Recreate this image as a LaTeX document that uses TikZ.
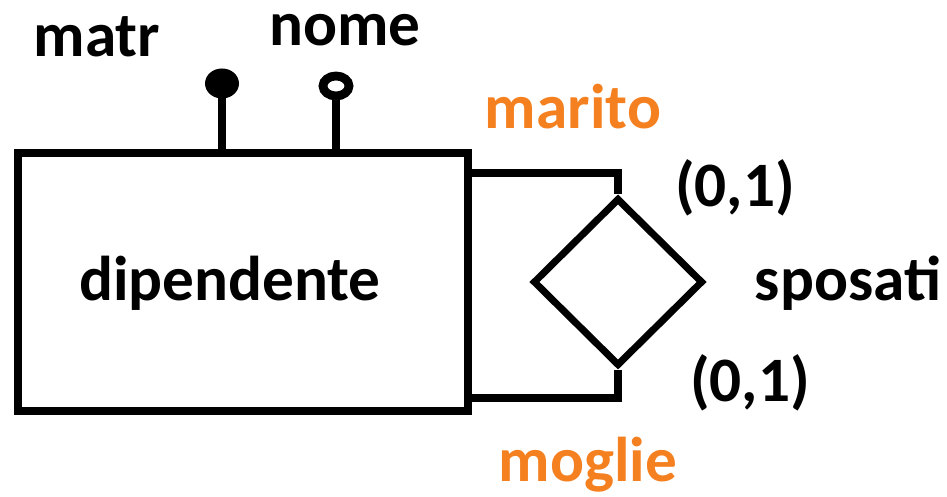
\documentclass[tikz,border=0pt]{standalone}
\usepackage{fontspec}
\setmainfont{Carlito}
\usetikzlibrary{shapes.geometric}
\definecolor{roleorange}{RGB}{245,128,32}
\tikzset{
  lbl/.style={font=\fontsize{36}{40}\selectfont\bfseries, inner sep=0pt},
  role/.style={lbl, text=roleorange},
  er/.style={line width=4pt}
}
\begin{document}
\begin{tikzpicture}
        \useasboundingbox (0,0) rectangle (18.94,9.94);
        \node (ent) [er,draw,minimum width=9cm,minimum height=5.16cm,inner sep=0pt] at (4.86,4.30) {};
        \node (dip) [lbl] at (4.60,4.28) {dipendente};
        \node (rel) [er,draw,diamond,minimum width=3.4cm,minimum height=3.36cm,inner sep=0pt] at (12.36,4.30) {};
        \node (spo) [lbl] at (16.96,4.28) {sposati};
        \node (matr) [lbl] at (1.94,9.20) {matr};
        \node (nome) [lbl] at (6.90,9.34) {nome};
        \node (mar) [role] at (11.46,7.80) {marito};
        \node (mog) [role] at (11.76,0.64) {moglie};
        \node (c1) [lbl] at (14.70,6.18) {(0,1)};
        \node (c2) [lbl] at (15.00,2.28) {(0,1)};
        \coordinate (k1) at (4.44,8.27);
        \coordinate (k2) at (6.72,8.22);
%        attributes
        \draw [er] (k1) to (k1 |- ent.north);
        \fill (k1) ellipse (0.34 and 0.30);
        \draw [er] (k2) to (k2 |- ent.north);
        \draw [line width=5pt,fill=white] (k2) ellipse (0.26 and 0.20);
%        ring to the relationship
        \draw [er] (ent.east |- 0,6.48) -| (rel.north);
        \draw [er] (ent.east |- 0,1.98) -| (rel.south);
      \end{tikzpicture}
\end{document}
